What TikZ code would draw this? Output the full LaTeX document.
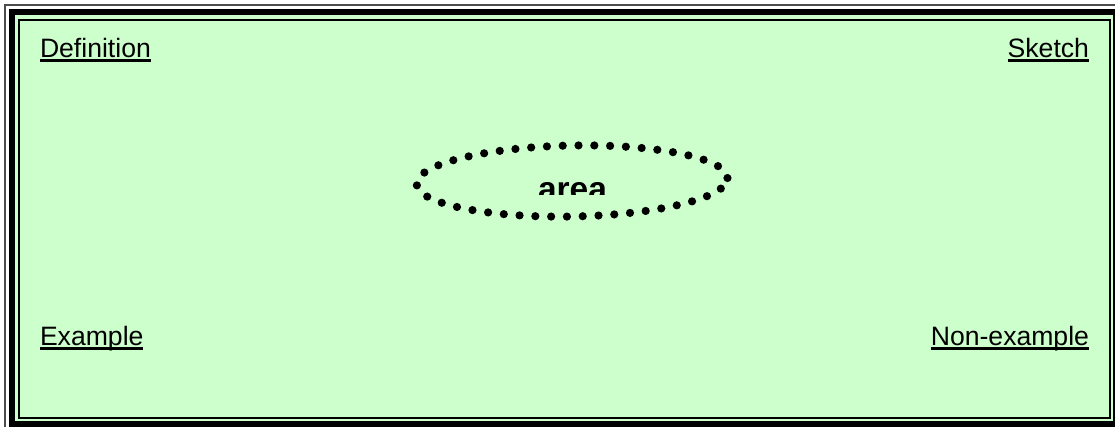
\documentclass[tikz,border=0pt]{standalone}
\usepackage{fontspec}
\setmainfont{Liberation Sans}
\usepackage{tikz}
\usepackage{xcolor}
\usetikzlibrary{shapes.geometric, positioning, calc}
\definecolor{cPaper}{RGB}{204,255,204}
\newcommand{\ulabel}[1]{\setbox0\hbox{#1}\rlap{\rule[-4.8pt]{\wd0}{2.4pt}}\box0}
\tikzset{
	corner/.style={inner sep=0pt, outer sep=0pt, font=\fontsize{26.6}{30}\selectfont},
	dotring/.style={ellipse, draw=black, line width=8.2pt, dash pattern=on 0pt off 15.8pt, line cap=round, minimum width=311pt, minimum height=71pt, inner sep=0pt},
	term/.style={inner sep=0pt, outer sep=0pt, font=\fontsize{33.5}{36}\selectfont\bfseries},
}
\begin{document}
\begin{tikzpicture}[x=1pt, y=-1pt]
	\useasboundingbox (0,0) rectangle (1115,426);
	\clip (0,0) rectangle (1115,426);
	% frame
	\fill[cPaper] (15,15) rectangle (1113,421);
	\draw[black!70, line width=2pt] (5,5) rectangle (1123,431);
	\draw[black, line width=6pt] (12,12) rectangle (1116,424);
	\draw[black, line width=2pt] (19,20) rectangle (1110,418);
	% corner labels
	\node[corner, anchor=base west] (def) at (40,57) {\ulabel{Definition}};
	\node[corner, anchor=base east] (sketch) at (1089,57) {\ulabel{Sketch}};
	\node[corner, anchor=base west] (ex) at (40,345) {\ulabel{Example}};
	\node[corner, anchor=base east] (nonex) at (1089,345) {\ulabel{Non-example}};
	% the word in the middle
	\node[dotring, rotate=1.1] (oval) at (572,181) {};
	\begin{scope}
		\clip (400,140) rectangle (745,194);
		\node[term, anchor=base] (word) at (572.5,200.5) {area};
	\end{scope}
\end{tikzpicture}
\end{document}
